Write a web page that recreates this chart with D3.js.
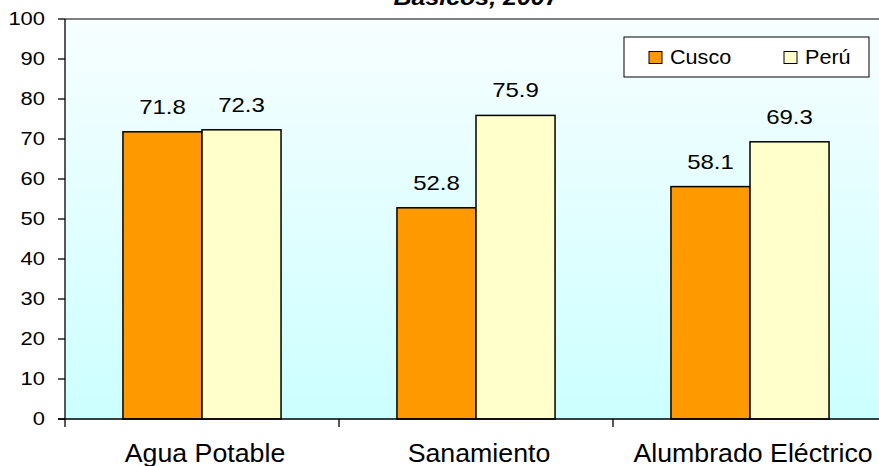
<!DOCTYPE html>
<html>
<head>
<meta charset="utf-8">
<script src="https://cdn.jsdelivr.net/npm/d3@7"></script>
<style>
  html, body { margin: 0; padding: 0; background: #ffffff; }
  svg { display: block; }
  text { font-family: Arial, "Liberation Sans", sans-serif; fill: #000; }
</style>
</head>
<body>
<svg id="chart" width="879" height="466"></svg>
<script>
// ---- data ----
const categories = ["Agua Potable", "Sanamiento", "Alumbrado Eléctrico"];
const seriesNames = ["Cusco", "Perú"];
const cuscoValues = [71.8, 52.8, 58.1];
const peruValues = [72.3, 75.9, 69.3];
const yTicks = [0, 10, 20, 30, 40, 50, 60, 70, 80, 90, 100];
const titleText = "Básicos, 2007";

// ---- layout ----
const svg = d3.select("#chart");
const plot = { left: 65, top: 19, right: 887, bottom: 419 };
const colors = { "Cusco": "#ff9900", "Perú": "#ffffcc" };

function stretch(sel, sx) {
  sel.attr("transform", function () {
    const x = +this.getAttribute("data-x"), y = +this.getAttribute("data-y");
    return `translate(${x},${y}) scale(${sx},1)`;
  });
}

// background gradient
const defs = svg.append("defs");
const grad = defs.append("linearGradient").attr("id", "bg")
  .attr("x1", 0).attr("y1", 0).attr("x2", 0).attr("y2", 1);
grad.append("stop").attr("offset", "0%").attr("stop-color", "#f7feff");
grad.append("stop").attr("offset", "100%").attr("stop-color", "#ccffff");

svg.append("rect")
  .attr("x", plot.left).attr("y", plot.top)
  .attr("width", plot.right - plot.left).attr("height", plot.bottom - plot.top)
  .attr("fill", "url(#bg)");

// scales
const y = d3.scaleLinear().domain([0, 100]).range([plot.bottom, plot.top]);
const x0 = d3.scaleBand().domain(categories).range([plot.left, plot.right])
  .paddingInner(0.423).paddingOuter(0.2115);
const x1 = d3.scaleBand().domain(seriesNames).range([0, x0.bandwidth()]).padding(0);

// top border
svg.append("line")
  .attr("x1", plot.left).attr("x2", plot.right)
  .attr("y1", plot.top).attr("y2", plot.top)
  .attr("stroke", "#808080").attr("stroke-width", 2);

// data
const rows = categories.map((c, i) => ({
  cat: c,
  vals: [{ s: "Cusco", v: cuscoValues[i] }, { s: "Perú", v: peruValues[i] }]
}));

const groups = svg.append("g").selectAll("g").data(rows).join("g")
  .attr("transform", d => `translate(${x0(d.cat)},0)`);

groups.selectAll("rect").data(d => d.vals).join("rect")
  .attr("x", d => x1(d.s))
  .attr("y", d => y(d.v))
  .attr("width", x1.bandwidth())
  .attr("height", d => y(0) - y(d.v))
  .attr("fill", d => colors[d.s])
  .attr("stroke", "#000").attr("stroke-width", 1.5);

// data labels
const labelSel = groups.selectAll("text.val").data(d => d.vals.map(v => ({ ...v, cx: 0 }))).join("text")
  .attr("class", "val")
  .attr("data-x", d => x1(d.s) + x1.bandwidth() / 2)
  .attr("data-y", d => y(d.v) - 18)
  .attr("text-anchor", "middle")
  .attr("font-size", 20)
  .text(d => d.v.toFixed(1));
stretch(labelSel, 1.2);

// y axis
const yAxisG = svg.append("g");
yAxisG.append("line")
  .attr("x1", plot.left).attr("x2", plot.left)
  .attr("y1", plot.top).attr("y2", plot.bottom)
  .attr("stroke", "#000").attr("stroke-width", 1.3);
yAxisG.selectAll("line.tick").data(yTicks).join("line")
  .attr("class", "tick")
  .attr("x1", plot.left - 7).attr("x2", plot.left)
  .attr("y1", d => y(d)).attr("y2", d => y(d))
  .attr("stroke", "#000").attr("stroke-width", 1.3);
const yLab = yAxisG.selectAll("text").data(yTicks).join("text")
  .attr("data-x", 45)
  .attr("data-y", d => y(d) + 6.3)
  .attr("text-anchor", "end")
  .attr("font-size", 18)
  .text(d => d);
stretch(yLab, 1.22);

// x axis
const xAxisG = svg.append("g");
xAxisG.append("line")
  .attr("x1", plot.left - 7).attr("x2", plot.right)
  .attr("y1", plot.bottom).attr("y2", plot.bottom)
  .attr("stroke", "#000").attr("stroke-width", 1.3);
const boundaries = categories.map(c => x0(c) - x0.step() * x0.paddingInner() / 2)
  .concat([plot.right]);
xAxisG.selectAll("line.tick").data(boundaries).join("line")
  .attr("class", "tick")
  .attr("x1", d => d).attr("x2", d => d)
  .attr("y1", plot.bottom).attr("y2", plot.bottom + 8)
  .attr("stroke", "#000").attr("stroke-width", 1.3);
const xLab = xAxisG.selectAll("text").data(categories).join("text")
  .attr("data-x", d => x0(d) + x0.bandwidth() / 2 + 3)
  .attr("data-y", 462)
  .attr("text-anchor", "middle")
  .attr("font-size", 25)
  .text(d => d);
stretch(xLab, 1.07);

// legend
const leg = svg.append("g");
leg.append("rect")
  .attr("x", 624).attr("y", 37).attr("width", 245).attr("height", 40)
  .attr("fill", "#ffffff").attr("stroke", "#000").attr("stroke-width", 1);
const legItems = [{ s: seriesNames[0], x: 649 }, { s: seriesNames[1], x: 784 }];
leg.selectAll("rect.sw").data(legItems).join("rect")
  .attr("class", "sw")
  .attr("x", d => d.x).attr("y", 51.5)
  .attr("width", 13).attr("height", 12)
  .attr("fill", d => colors[d.s]).attr("stroke", "#000").attr("stroke-width", 1);
const legText = leg.selectAll("text").data(legItems).join("text")
  .attr("data-x", d => d.x + 21)
  .attr("data-y", 64)
  .attr("font-size", 20)
  .text(d => d.s);
stretch(legText, 1.08);

// title (cut at top)
svg.append("text")
  .attr("x", 476).attr("y", 5)
  .attr("text-anchor", "middle")
  .attr("font-family", "'Liberation Serif', 'DejaVu Serif', serif")
  .attr("font-weight", "bold").attr("font-style", "italic")
  .attr("font-size", 22)
  .attr("textLength", 165).attr("lengthAdjust", "spacingAndGlyphs")
  .text(titleText);
</script>
</body>
</html>
